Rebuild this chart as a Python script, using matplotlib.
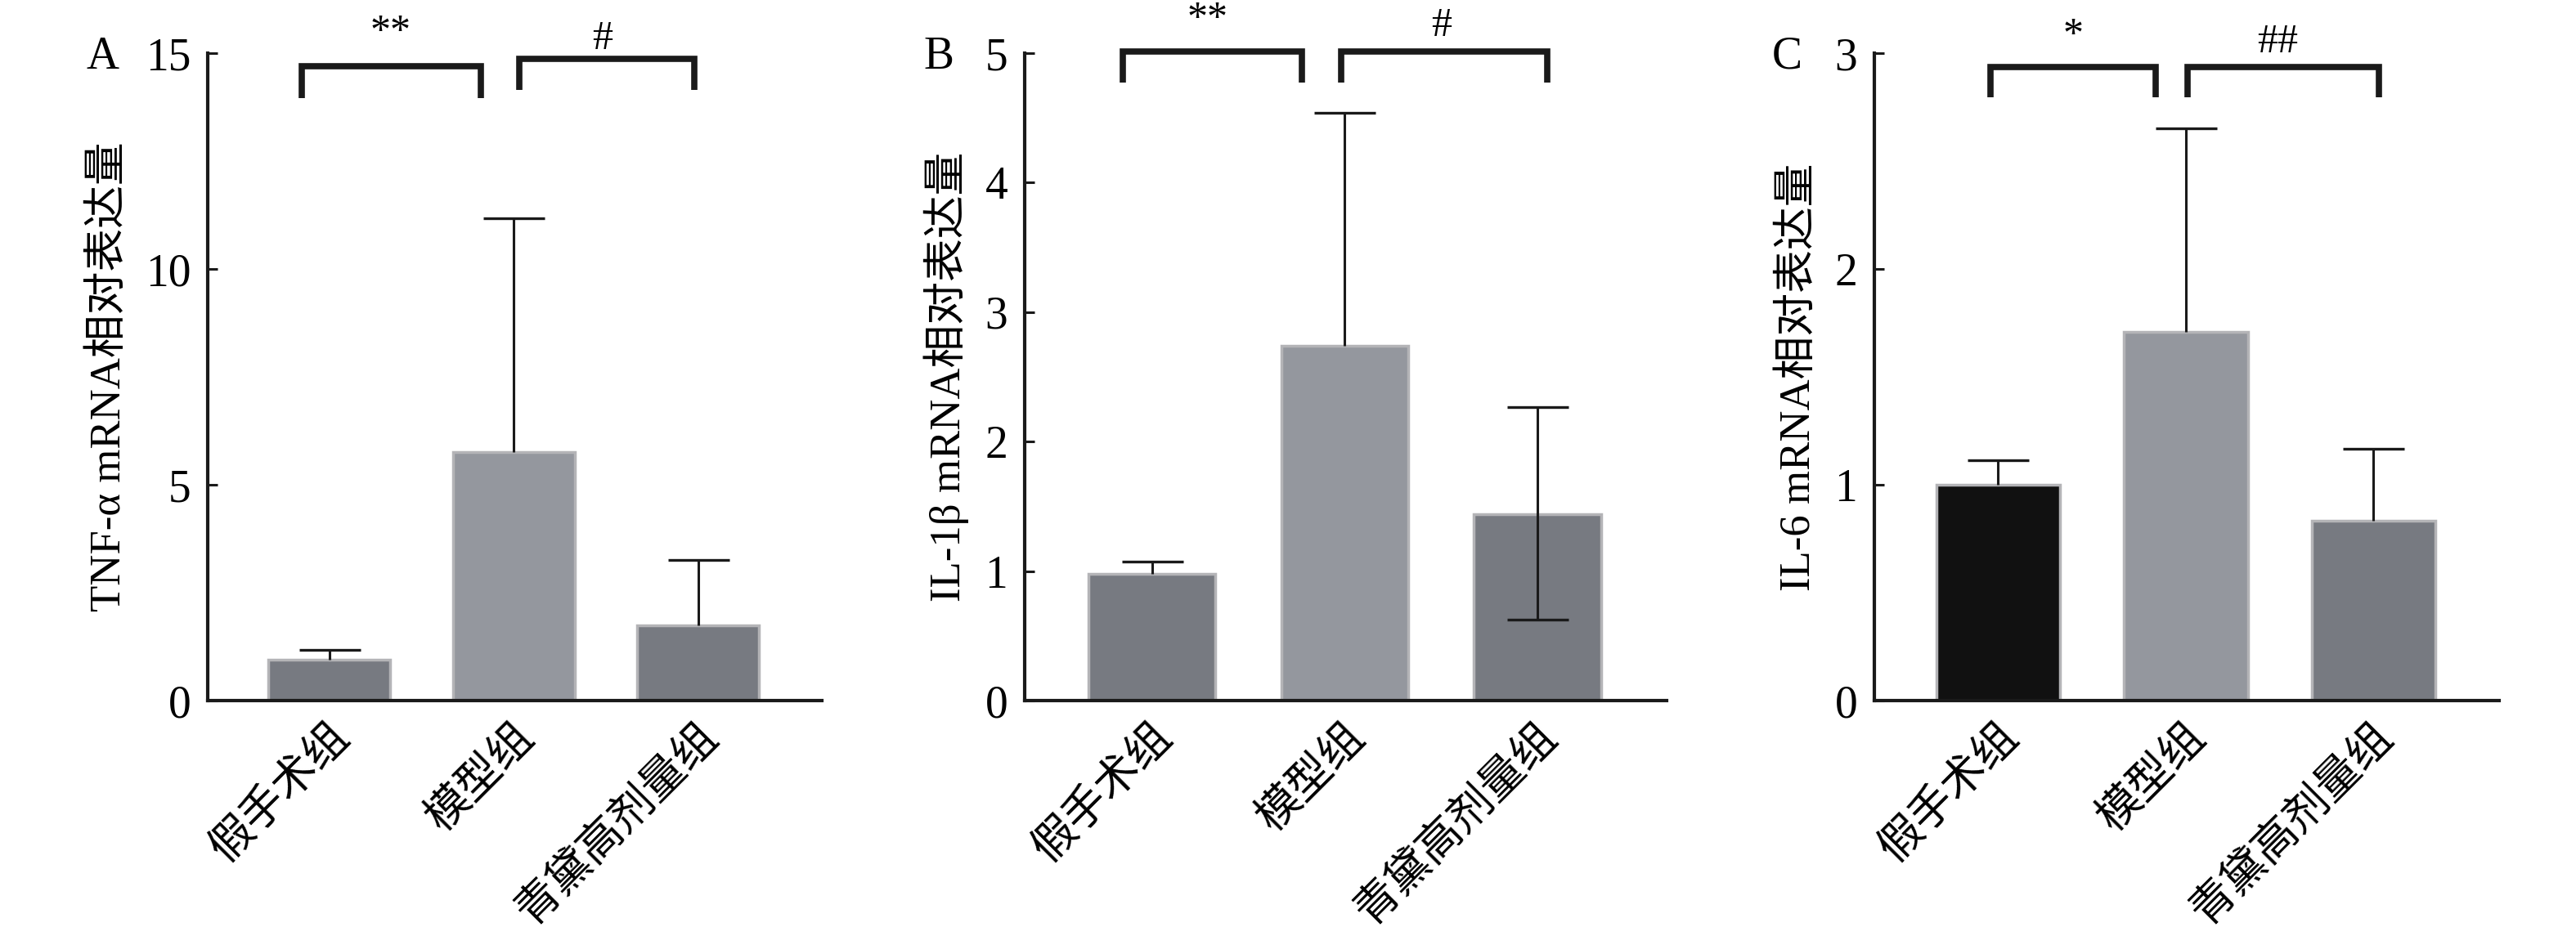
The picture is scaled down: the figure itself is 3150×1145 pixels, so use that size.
import numpy as np
import matplotlib
matplotlib.use('Agg')
import matplotlib.pyplot as plt
from matplotlib.transforms import ScaledTranslation

plt.rcParams['font.family'] = ['Liberation Serif', 'Noto Sans CJK SC']
plt.rcParams['axes.unicode_minus'] = False

groups = ['假手术组', '模型组', '青黛高剂量组']

# panel A: TNF-alpha
tnf_mean = [0.95, 5.75, 1.75]
tnf_err_up = [0.22, 5.42, 1.50]
tnf_err_low = [0.0, 0.0, 0.0]

# panel B: IL-1beta
il1b_mean = [0.98, 2.74, 1.44]
il1b_err_up = [0.095, 1.80, 0.825]
il1b_err_low = [0.0, 0.0, 0.815]

# panel C: IL-6
il6_mean = [1.0, 1.71, 0.835]
il6_err_up = [0.115, 0.94, 0.33]
il6_err_low = [0.0, 0.0, 0.0]

ylabels = ['TNF-α mRNA相对表达量', 'IL-1β mRNA相对表达量', 'IL-6 mRNA相对表达量']
letters = ['A', 'B', 'C']
ymax = [15, 5, 3]
yticks = [[0, 5, 10, 15], [0, 1, 2, 3, 4, 5], [0, 1, 2, 3]]

# significance brackets: (x_left, x_right, y_top, y_bottom_left, y_bottom_right, label, text_x, text_y)
brackets = [
    [(-0.15, 0.82, 14.70, 13.95, 13.95, '**', 0.33, 15.25),
     (1.03, 1.98, 14.86, 14.14, 14.14, '#', 1.48, 15.1)],
    [(-0.15, 0.78, 5.01, 4.77, 4.77, '**', 0.29, 5.18),
     (0.98, 2.05, 5.01, 4.77, 4.77, '#', 1.50, 5.13)],
    [(-0.04, 0.84, 2.936, 2.797, 2.797, '*', 0.40, 3.035),
     (1.01, 2.03, 2.936, 2.797, 2.797, '##', 1.49, 3.005)],
]

dark = '#777a81'
mid = '#94979e'
black = '#111111'
bar_colors = [[dark, mid, dark], [dark, mid, dark], [black, mid, dark]]

means = [tnf_mean, il1b_mean, il6_mean]
errs = [(tnf_err_low, tnf_err_up), (il1b_err_low, il1b_err_up), (il6_err_low, il6_err_up)]

fig = plt.figure(figsize=(31.5, 11.45), dpi=100)
lefts = [254, 1253, 2292]
rights = [1005, 2038, 3056]
letter_x = [145, 1166, 2204]
bottom = 1 - 857 / 1145
top = 1 - 65 / 1145

x = np.arange(len(groups))

for i in range(3):
    l = lefts[i] / 3150
    w = (rights[i] - lefts[i]) / 3150
    ax = fig.add_axes([l, bottom, w, top - bottom])

    ax.bar(x, means[i], width=0.66, color=bar_colors[i], edgecolor='#b4b4b7',
           linewidth=2.5, zorder=2)
    low, up = errs[i]
    eb = ax.errorbar(x, means[i], yerr=[low, up], fmt='none',
                     ecolor='#1a1a1a', elinewidth=2.2, capsize=27, capthick=2.4, zorder=3)
    # only keep a lower cap where there is a lower error
    keep = [j for j in range(len(low)) if low[j] > 0]
    if keep:
        eb[1][0].set_markevery(keep)
    else:
        eb[1][0].set_visible(False)

    ax.set_xlim(-0.66, 2.67)
    ax.set_ylim(0, ymax[i])
    ax.set_yticks(yticks[i])
    ax.set_xticks(x)

    for s in ['top', 'right']:
        ax.spines[s].set_visible(False)
    for s in ['left', 'bottom']:
        ax.spines[s].set_linewidth(3)
        ax.spines[s].set_color('#1a1a1a')

    ax.tick_params(axis='both', direction='in', length=8.5, width=2.2, color='#1a1a1a')
    ax.tick_params(axis='y', labelsize=40, pad=15)
    ax.tick_params(axis='x', pad=27)

    ax.set_xticklabels(groups, rotation=45, ha='right', va='center',
                       rotation_mode='anchor', fontsize=39)
    for lab in ax.get_xticklabels():
        lab.set_transform(lab.get_transform() + ScaledTranslation(0.17, 0, fig.dpi_scale_trans))

    ax.set_ylabel(ylabels[i], fontsize=38, labelpad=14)

    for (xl, xr, yt, ybl, ybr, txt, tx, ty) in brackets[i]:
        ax.plot([xl, xl, xr, xr], [ybl, yt, yt, ybr], color='#1a1a1a', lw=5.5,
                solid_joinstyle='miter', solid_capstyle='butt', clip_on=False, zorder=4)
        ax.text(tx, ty, txt, ha='center', va='baseline', fontsize=36, clip_on=False)

    fig.text(letter_x[i] / 3150, 1 - 84 / 1145, letters[i], ha='right',
             va='baseline', fontsize=40)

fig.savefig('out.png', dpi=100)
